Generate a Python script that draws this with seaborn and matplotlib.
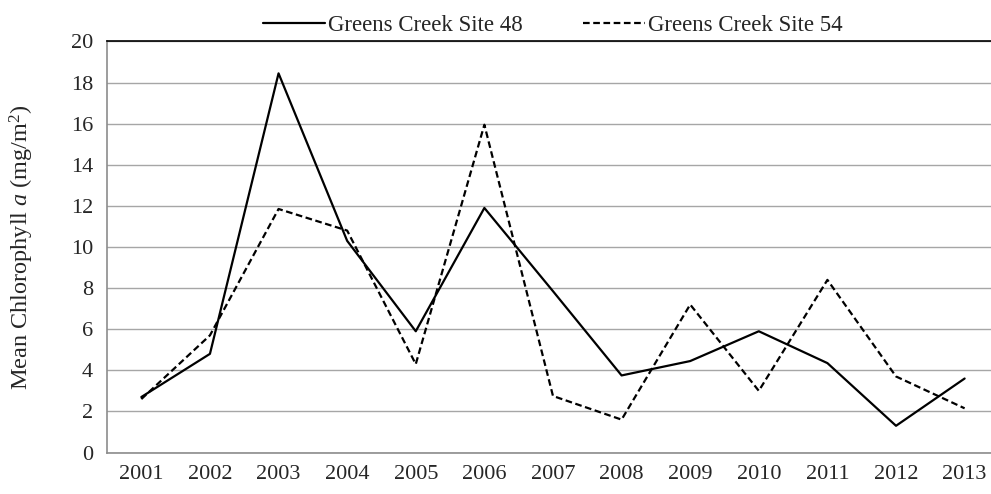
import numpy as np
import pandas as pd
import matplotlib
matplotlib.use("Agg")
import matplotlib.pyplot as plt
import seaborn as sns

# values
years = [2001, 2002, 2003, 2004, 2005, 2006, 2007, 2008, 2009, 2010, 2011, 2012, 2013]
site48 = [2.7, 4.8, 18.45, 10.3, 5.9, 11.9, 7.85, 3.75, 4.45, 5.9, 4.35, 1.3, 3.6]
site54 = [2.6, 5.7, 11.85, 10.8, 4.3, 15.95, 2.75, 1.6, 7.2, 3.0, 8.4, 3.7, 2.15]
labels = ["Greens Creek Site 48", "Greens Creek Site 54"]

df = pd.DataFrame({
    "year": years * 2,
    "chl": site48 + site54,
    "site": [labels[0]] * len(years) + [labels[1]] * len(years),
})

sns.set_theme(style="white")
plt.rcParams["font.family"] = ["Liberation Serif", "DejaVu Serif"]
plt.rcParams["mathtext.fontset"] = "custom"
plt.rcParams["mathtext.rm"] = "Liberation Serif"
plt.rcParams["mathtext.it"] = "Liberation Serif:italic"

fig = plt.figure(figsize=(9.91, 4.94), dpi=100)
ax = fig.add_axes([0.108, 0.084, 0.9, 0.832])

sns.lineplot(data=df, x="year", y="chl", style="site", color="black",
             dashes={labels[0]: "", labels[1]: (3, 1.6)}, linewidth=1.6,
             ax=ax, legend=True)

ax.set_xlim(2000.5, 2013.5)
ax.set_ylim(0, 20)
ax.set_yticks(np.arange(0, 21, 2))
ax.set_xticks(years)
ax.set_xticks(np.arange(2000.5, 2013.6, 1), minor=True)
ax.tick_params(axis="x", which="major", length=0, pad=9, labelsize=16)
ax.tick_params(axis="x", which="minor", length=5, color="#8c8c8c", width=1)
ax.tick_params(axis="y", length=5, color="#8c8c8c", width=1, labelsize=16, pad=5)
ax.yaxis.grid(True, color="#a6a6a6", linewidth=1)
ax.set_axisbelow(True)

for side in ["left", "bottom"]:
    ax.spines[side].set_color("#8c8c8c")
    ax.spines[side].set_linewidth(1.2)
ax.spines["right"].set_visible(False)
ax.spines["top"].set_color("black")
ax.spines["top"].set_linewidth(1.2)

ax.set_xlabel("")
ax.set_ylabel(r"Mean Chlorophyll $\mathit{a}$ (mg/m$^2$)", fontsize=17.5)
ax.yaxis.set_label_coords(-0.08, 0.5)

handles, lbls = ax.get_legend_handles_labels()
ax.legend(handles, lbls, loc="lower center", bbox_to_anchor=(0.5, 0.99),
          ncol=2, frameon=False, fontsize=16.5, handlelength=2.7,
          columnspacing=2.6, handletextpad=0.15, borderaxespad=0)

fig.savefig("out.png", dpi=100)
